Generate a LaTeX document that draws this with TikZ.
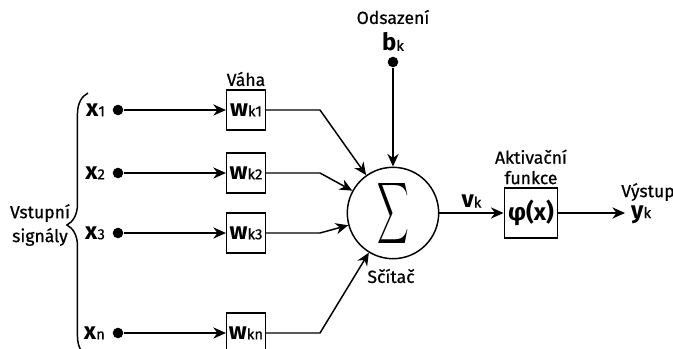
\documentclass[tikz,border=0pt]{standalone}
\usepackage{fontspec}
\usepackage{graphicx}
\setmainfont{Fira Sans}
\newfontfamily\medfont{Fira Sans}[FakeBold=0.6]
\usetikzlibrary{arrows.meta,decorations.pathreplacing}
\newcommand{\sym}[2]{{\fontsize{17}{19}\selectfont\bfseries #1}{\medfont\fontsize{10.5}{12}\selectfont #2}}
\tikzset{
  lbl/.style={font=\medfont\fontsize{12.5}{14}\selectfont},
  wbox/.style={draw, minimum width=27.5pt, minimum height=28.5pt, inner sep=0pt},
  dot/.style={circle, fill, inner sep=0pt, minimum size=7.5pt},
  sig/.style={-{Stealth[length=9pt,width=8pt]}},
}
\begin{document}
\begin{tikzpicture}[x=0.025cm, y=-0.025cm, line width=1.05pt]
    \useasboundingbox (0,0) rectangle (673,349);
    \node[circle, draw, minimum size=65pt, inner sep=0pt] (sum) at (393,213) { \resizebox{22.5pt}{32pt}{$\displaystyle\sum$} };
    \node[lbl] (sumlbl) at (391,276) { Sčítač };
    % vstupy a vahy
    \foreach \i/\y in {1/110, 2/173, 3/233, n/333} {
      \node[dot] (d\i) at (118,\y) {};
      \node[anchor=east, inner sep=1pt] (x\i) at (107,\y) { \sym{x}{\i} };
      \node[wbox] (w\i) at (246,\y) { \sym{w}{k\i} };
      \coordinate (c\i) at (320,\y);
      \draw[sig] (d\i) -- (w\i);
      \draw[sig] (w\i) -- (c\i) -- (sum);
    }
    \node[lbl] (vaha) at (246,79) { Váha };
    \draw[decorate, decoration={brace, amplitude=15pt}] (88,357) -- (88,93);
    \node[lbl, align=center, font=\medfont\fontsize{12.5}{17}\selectfont] (vst) at (40,225) { Vstupní\\signály };
    % odsazeni
    \node[lbl] (odsl) at (393,17) { Odsazení };
    \node (bk) at (393,42) { \sym{b}{k} };
    \node[dot] (bd) at (393,62) {};
    \draw[sig] (bd) -- (sum);
    % aktivace a vystup
    \node[wbox, minimum width=38pt, minimum height=35.5pt] (phi) at (531,213) { \fontsize{17}{19}\selectfont\bfseries φ(x) };
    \node[lbl, align=center, font=\medfont\fontsize{12.5}{14.5}\selectfont] (akt) at (531,167) { Aktivační\\funkce };
    \draw[sig] (sum) -- node[above] (vk) { \sym{v}{k} } (phi);
    \coordinate (out) at (625,213);
    \draw[sig] (phi) -- (out);
    \node[anchor=base west, inner sep=1pt] (yk) at (629,218) { \sym{y}{k} };
    \node[lbl] (vyst) at (648,192) { Výstup };
  \end{tikzpicture}
\end{document}
